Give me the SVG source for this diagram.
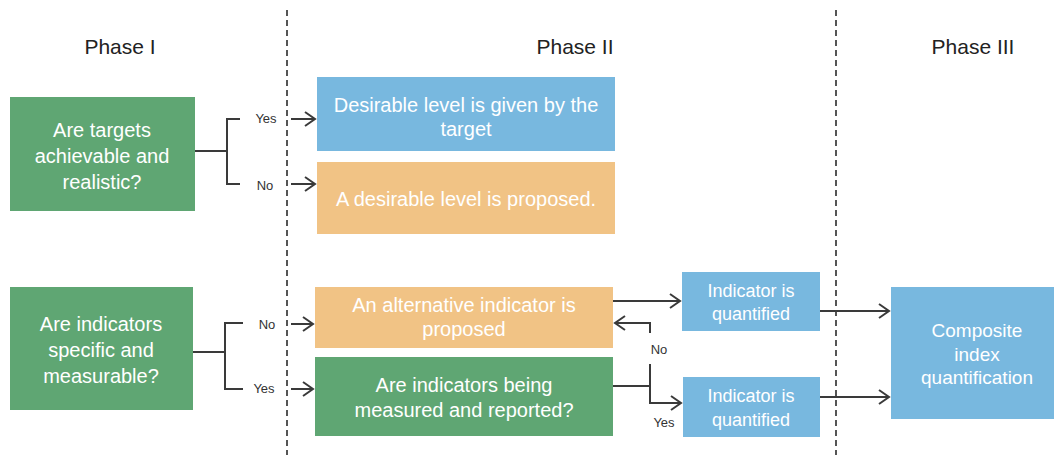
<svg xmlns="http://www.w3.org/2000/svg" width="1054" height="455" viewBox="0 0 1054 455">
  <style>
    .green { fill: #5fa673; }
    .blue { fill: #78b8df; }
    .orange { fill: #f1c385; }
    .box-text { font-family: "Liberation Sans", Arial, sans-serif; font-size: 20px; fill: #ffffff; text-anchor: middle; }
    .small-box-text { font-size: 18px; }
    .phase { font-family: "Liberation Sans", Arial, sans-serif; font-size: 21px; fill: #222222; text-anchor: middle; }
    .label { font-family: "Liberation Sans", Arial, sans-serif; font-size: 13px; fill: #333333; text-anchor: middle; }
    .line { fill: none; stroke: #3a3a3a; stroke-width: 2; }
    .arrow { fill: none; stroke: #3a3a3a; stroke-width: 2; marker-end: url(#chevron); }
    .divider { stroke: #555555; stroke-width: 2; stroke-dasharray: 6 4; }
  </style>
  <defs>
    <marker id="chevron" markerUnits="userSpaceOnUse" markerWidth="14" markerHeight="16" refX="11" refY="8" orient="auto">
      <path d="M1,1 L11,8 L1,15" fill="none" stroke="#3a3a3a" stroke-width="2"/>
    </marker>
  </defs>

  <rect width="1054" height="455" fill="#ffffff"/>

  <!-- phase dividers -->
  <g id="dividers">
    <line class="divider" x1="287" y1="10" x2="287" y2="455"/>
    <line class="divider" x1="836" y1="10" x2="836" y2="455"/>
  </g>

  <!-- phase headings -->
  <g id="headings">
    <text class="phase" x="120" y="54">Phase I</text>
    <text class="phase" x="575" y="54">Phase II</text>
    <text class="phase" x="973" y="54">Phase III</text>
  </g>

  <!-- nodes -->
  <g id="targets-question">
    <rect class="green" x="10" y="97" width="185" height="114"/>
    <text class="box-text" x="102" y="137">Are targets</text>
    <text class="box-text" x="102" y="163">achievable and</text>
    <text class="box-text" x="102" y="189">realistic?</text>
  </g>

  <g id="level-given">
    <rect class="blue" x="317" y="77" width="298" height="74"/>
    <text class="box-text" x="466" y="112">Desirable level is given by the</text>
    <text class="box-text" x="466" y="136">target</text>
  </g>

  <g id="level-proposed">
    <rect class="orange" x="317" y="162" width="298" height="72"/>
    <text class="box-text" x="466" y="206">A desirable level is proposed.</text>
  </g>

  <g id="indicators-question">
    <rect class="green" x="10" y="287" width="183" height="123"/>
    <text class="box-text" x="101" y="331">Are indicators</text>
    <text class="box-text" x="101" y="357">specific and</text>
    <text class="box-text" x="101" y="383">measurable?</text>
  </g>

  <g id="alternative-indicator">
    <rect class="orange" x="315" y="287" width="298" height="61"/>
    <text class="box-text" x="464" y="312">An alternative indicator is</text>
    <text class="box-text" x="464" y="336">proposed</text>
  </g>

  <g id="measured-question">
    <rect class="green" x="315" y="357" width="298" height="79"/>
    <text class="box-text" x="464" y="392">Are indicators being</text>
    <text class="box-text" x="464" y="417">measured and reported?</text>
  </g>

  <g id="quantified-top">
    <rect class="blue" x="682" y="272" width="138" height="59"/>
    <text class="box-text small-box-text" x="751" y="297">Indicator is</text>
    <text class="box-text small-box-text" x="751" y="320">quantified</text>
  </g>

  <g id="quantified-bottom">
    <rect class="blue" x="683" y="377" width="137" height="60"/>
    <text class="box-text small-box-text" x="751" y="402">Indicator is</text>
    <text class="box-text small-box-text" x="751" y="426">quantified</text>
  </g>

  <g id="composite-index">
    <rect class="blue" x="891" y="287" width="163" height="132"/>
    <text class="box-text" x="977" y="337" style="font-size:19px">Composite</text>
    <text class="box-text" x="977" y="361" style="font-size:19px">index</text>
    <text class="box-text" x="977" y="384" style="font-size:19px">quantification</text>
  </g>

  <!-- connectors -->
  <g id="connectors">
    <!-- targets bracket -->
    <path class="line" d="M195,151 H227 M240,119 H227 V184 H240"/>
    <line class="arrow" x1="291" y1="119" x2="315" y2="119"/>
    <line class="arrow" x1="291" y1="184" x2="315" y2="184"/>

    <!-- indicators bracket -->
    <path class="line" d="M193,352 H225 M243,323 H225 V389 H243"/>
    <line class="arrow" x1="291" y1="324" x2="313" y2="324"/>
    <line class="arrow" x1="291" y1="389" x2="313" y2="389"/>

    <!-- alternative indicator to quantification -->
    <line class="arrow" x1="613" y1="301" x2="680" y2="301"/>

    <!-- measured question split -->
    <path class="line" d="M613,386 H650"/>
    <path class="arrow" d="M650,333 V323 H615"/>
    <path class="arrow" d="M650,364 V403 H681"/>

    <!-- quantified to composite -->
    <line class="arrow" x1="820" y1="311" x2="889" y2="311"/>
    <line class="arrow" x1="820" y1="397" x2="889" y2="397"/>
  </g>

  <!-- connector labels -->
  <g id="labels">
    <text class="label" x="266" y="123">Yes</text>
    <text class="label" x="265" y="190">No</text>
    <text class="label" x="267" y="329">No</text>
    <text class="label" x="264" y="393">Yes</text>
    <text class="label" x="659" y="354">No</text>
    <text class="label" x="664" y="427">Yes</text>
  </g>
</svg>
